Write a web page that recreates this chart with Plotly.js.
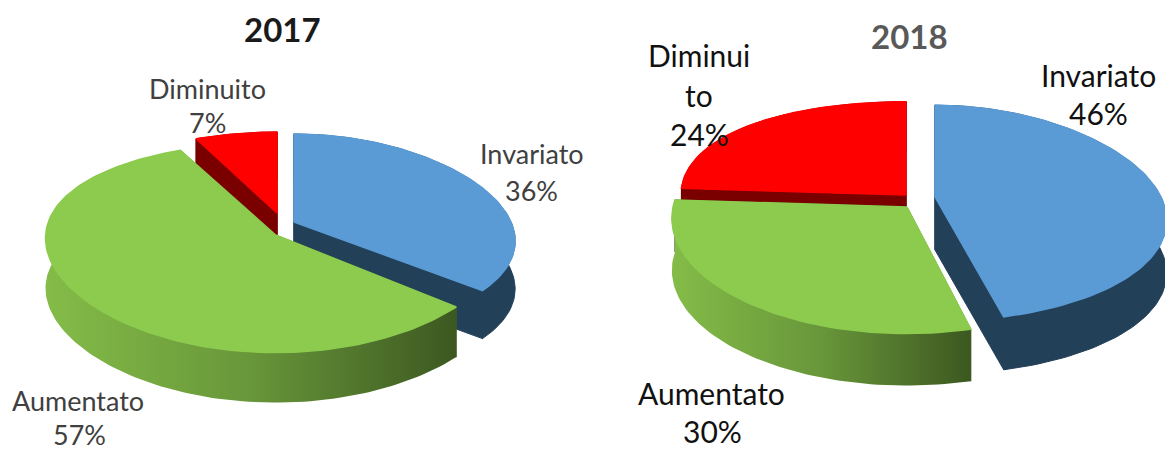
<!DOCTYPE html>
<html>
<head>
<meta charset="utf-8">
<script src="https://cdn.plot.ly/plotly-3.0.1.min.js"></script>
<style>html,body{margin:0;padding:0;background:#fff}#chart{width:1165px;height:450px}</style>
</head>
<body>
<div id="chart"></div>
<script>
// ---- data ----
const categories = ['Invariato', 'Aumentato', 'Diminuito'];
const values2017 = [36, 57, 7];
const values2018 = [46, 30, 24];
const labelLines2017 = [['Invariato'], ['Aumentato'], ['Diminuito']];
const labelLines2018 = [['Invariato'], ['Aumentato'], ['Diminui', 'to']];

// ---- styling ----
const topColors = ['#5B9BD5', '#8CCB4E', '#FF0000'];
const sideColors = ['#234059', '#3F5C20', '#7A0000'];
const greenWall = [[0, '#84BC48'], [0.5, '#68963A'], [1, '#3C5820']];

// per-slice projection of the tilted pie: apex, radii, perspective
const geom2017 = [
  {cx: 294, cy: 222, rx: 217, ry: 100, k: 0.12, k2: 0.20, depth: 48},
  {cx: 275.6, cy: 235, rx: 230, ry: 105, k: 0.12, k2: 0.03, depth: 50},
  {cx: 277, cy: 213, rx: 232, ry: 92, k: 0.12, k2: 0.20, depth: 48}
];
const geom2018 = [
  {cx: 935, cy: 197, rx: 226, ry: 108, k: 0.15, k2: 0.23, depth: 53},
  {cx: 907, cy: 207, rx: 234, ry: 113, k: 0.12, k2: 0.10, depth: 52},
  {cx: 906, cy: 195, rx: 225, ry: 106, k: 0.12, k2: 0, depth: 50}
];

function project(g, deg) {
  const a = deg * Math.PI / 180, u = Math.sin(a), v = -Math.cos(a);
  return [g.cx + g.rx * u * (1 + g.k2 * v), g.cy + g.ry * v * (1 + g.k * v)];
}
function polygon(xs, ys, fill, name, extra, lineWidth) {
  return Object.assign({
    type: 'scatter', mode: 'lines', x: xs.concat(xs[0]), y: ys.concat(ys[0]),
    fill: 'toself', fillcolor: fill, line: {width: lineWidth || 0, color: fill},
    hoverinfo: 'text', text: name, showlegend: false
  }, extra || {});
}
function sliceTraces(values, geoms, idx, wallGradient) {
  const total = values.reduce((s, v) => s + v, 0);
  const before = values.slice(0, idx).reduce((s, v) => s + v, 0);
  const a0 = before / total * 360, a1 = (before + values[idx]) / total * 360;
  const g = geoms[idx], name = categories[idx] + ' ' + values[idx] + '%';
  const xs = [], ys = [];
  const n = Math.max(8, Math.round((a1 - a0) / 1.5));
  for (let i = 0; i <= n; i++) {
    const p = project(g, a0 + (a1 - a0) * i / n);
    xs.push(p[0]); ys.push(p[1]);
  }
  const out = [];
  const d = g.depth, side = sideColors[idx];
  // radial cut faces (thin outline closes the seam with the wall)
  [[xs[0], ys[0]], [xs[n], ys[n]]].forEach(p => {
    out.push(polygon([g.cx, p[0], p[0], g.cx], [g.cy, p[1], p[1] + d, g.cy + d], side, name, null, 1));
  });
  // outer wall
  const wx = xs.concat(xs.slice().reverse());
  const wy = ys.concat(ys.slice().reverse().map(y => y + d));
  const extra = wallGradient ? {fillgradient: {type: 'horizontal', colorscale: wallGradient}} : {};
  out.push(polygon(wx, wy, side, name, extra, wallGradient ? 0 : 1));
  // top surface, its outline covers the wall's outline along the back rim
  out.push(polygon([g.cx].concat(xs), [g.cy].concat(ys), topColors[idx], name, null, 1.5));
  return out;
}

const data = [].concat(
  sliceTraces(values2017, geom2017, 2),
  sliceTraces(values2017, geom2017, 0),
  sliceTraces(values2017, geom2017, 1, greenWall),
  sliceTraces(values2018, geom2018, 2),
  sliceTraces(values2018, geom2018, 1, greenWall),
  sliceTraces(values2018, geom2018, 0)
);

function text(x, y, t, size, color, bold) {
  return {x, y, xref: 'x', yref: 'y', text: bold ? '<b>' + t + '</b>' : t, showarrow: false,
          xanchor: 'center', yanchor: 'middle',
          font: {family: 'Lato, Carlito, "Open Sans", sans-serif', size, color}};
}
const grey = '#404040', black = '#111111';
const annotations = [
  text(282, 29, '2017', 33, '#1a1a1a', true),
  text(909.5, 36, '2018', 33, '#595959', true),
  text(532, 153, labelLines2017[0][0], 27, grey),
  text(531, 190, values2017[0] + '%', 27, grey),
  text(78, 400, labelLines2017[1][0], 27, grey),
  text(79, 434, values2017[1] + '%', 27, grey),
  text(207, 88, labelLines2017[2][0], 27, grey),
  text(207, 122, values2017[2] + '%', 27, grey),
  text(1098, 75, labelLines2018[0][0], 30, black),
  text(1098, 113, values2018[0] + '%', 30, black),
  text(711, 393, labelLines2018[1][0], 30, black),
  text(712, 431, values2018[1] + '%', 30, black),
  text(699, 55, labelLines2018[2][0], 30, black),
  text(699, 95, labelLines2018[2][1], 30, black),
  text(699, 134, values2018[2] + '%', 30, black)
];

const layout = {
  width: 1165, height: 450, margin: {l: 0, r: 0, t: 0, b: 0},
  paper_bgcolor: '#fff', plot_bgcolor: '#fff', showlegend: false,
  xaxis: {range: [0, 1165], visible: false, fixedrange: true},
  yaxis: {range: [450, 0], visible: false, fixedrange: true},
  annotations
};
Plotly.newPlot('chart', data, layout, {displayModeBar: false, staticPlot: true});
</script>
</body>
</html>
